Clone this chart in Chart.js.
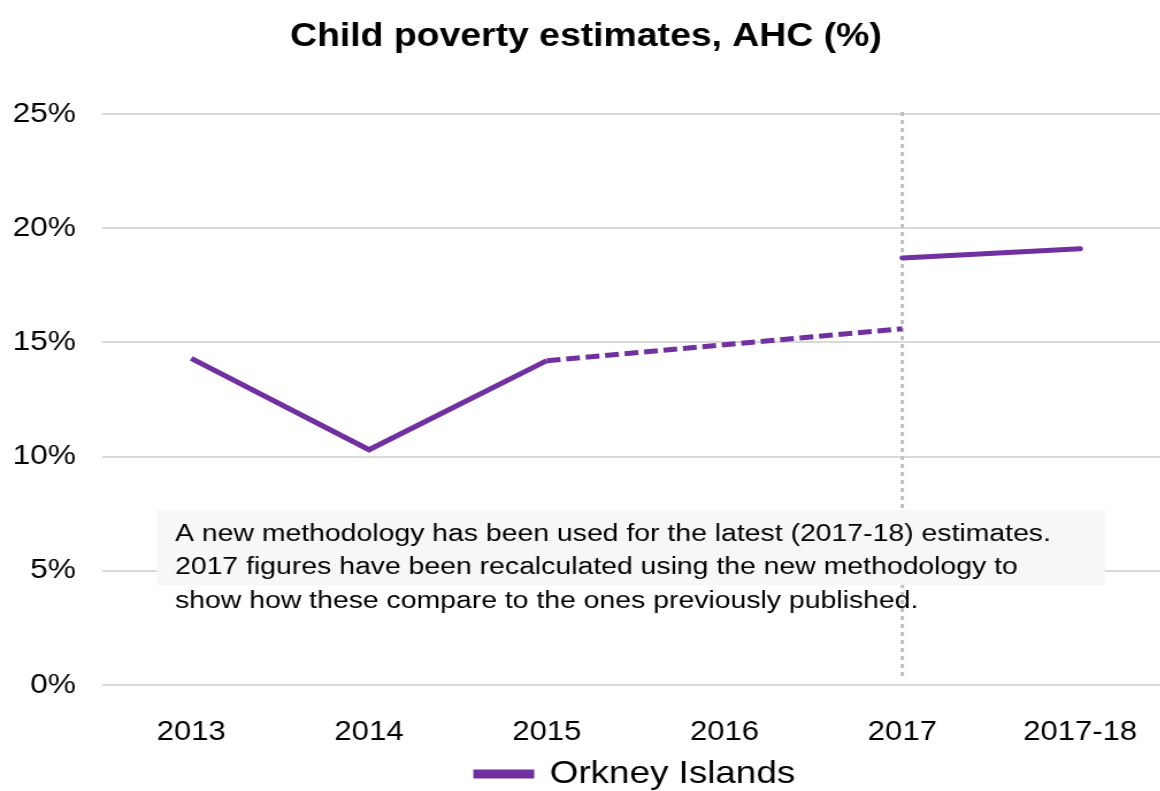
<!DOCTYPE html>
<html>
<head>
<meta charset="utf-8">
<script src="https://cdn.jsdelivr.net/npm/chart.js@4/dist/chart.umd.min.js"></script>
<style>
  html, body { margin: 0; padding: 0; background: #fff; overflow: hidden; }
  /* the original picture is slightly stretched sideways */
  #wrap { width: 1019px; height: 800px; transform: scaleX(1.15); transform-origin: 0 0; }
</style>
</head>
<body>
<div id="wrap"><canvas id="poverty-chart"></canvas></div>
<script>
const years = ["2013", "2014", "2015", "2016", "2017", "2017-18"];
// old methodology, published estimates
const oldValues = [14.3, 10.3, 14.2, null, null, null];
// old methodology, gap year bridged with a dashed line
const bridgeValues = [null, null, 14.2, null, 15.6, null];
// new methodology
const newValues = [null, null, null, null, 18.7, 19.1];
const yTicks = [0, 5, 10, 15, 20, 25];

const noteLines = [
  "A new methodology has been used for the latest (2017-18) estimates.",
  "2017 figures have been recalculated using the new methodology to",
  "show how these compare to the ones previously published."
];

const purple = "#7030a0";
const font = "'Liberation Sans', Arial, sans-serif";
const sx = 1.15;

// dotted divider at the new methodology year and the note box
const extras = {
  id: "extras",
  beforeDatasetsDraw(chart) {
    const ctx = chart.ctx;
    const x = chart.scales.x.getPixelForValue(4);
    const area = chart.chartArea;
    ctx.save();
    ctx.strokeStyle = "#c0c0c0";
    ctx.lineWidth = 3;
    ctx.setLineDash([4, 4]);
    ctx.beginPath();
    ctx.moveTo(x, area.top - 2);
    ctx.lineTo(x, area.bottom - 6);
    ctx.stroke();
    ctx.restore();
  },
  afterDatasetsDraw(chart) {
    const ctx = chart.ctx;
    ctx.save();
    ctx.fillStyle = "rgba(247,247,247,0.97)";
    ctx.fillRect(157 / sx, 510, 948 / sx, 75);
    ctx.fillStyle = "#000";
    ctx.font = "24.7px " + font;
    ctx.textBaseline = "middle";
    noteLines.forEach((line, i) => ctx.fillText(line, 175 / sx, 534 + i * 33.5));
    ctx.restore();
  }
};

const context = document.querySelector("#poverty-chart").getContext("2d");
const chart = new Chart(context, {
  type: "line",
  data: {
    labels: years,
    datasets: [{
      label: "Orkney Islands",
      data: oldValues,
      borderColor: purple,
      backgroundColor: purple,
      borderWidth: 5,
      pointRadius: 0,
      tension: 0
    }, {
      label: "bridge",
      data: bridgeValues,
      borderColor: purple,
      borderWidth: 5,
      borderDash: [12, 5],
      spanGaps: true,
      pointRadius: 0,
      tension: 0
    }, {
      label: "new",
      data: newValues,
      borderColor: purple,
      borderWidth: 5,
      borderCapStyle: "round",
      pointRadius: 0,
      tension: 0
    }]
  },
  options: {
    responsive: true,
    maintainAspectRatio: false,
    animation: false,
    layout: { padding: 0 },
    plugins: {
      title: {
        display: true,
        text: "Child poverty estimates, AHC (%)",
        color: "#000",
        font: { family: font, size: 32.5, weight: "bold" },
        padding: { top: 18, bottom: 57 }
      },
      legend: {
        position: "bottom",
        fullSize: false,
        labels: {
          filter: item => item.datasetIndex === 0,
          color: "#000",
          font: { family: font, size: 32 },
          boxWidth: 48,
          boxHeight: 4,
          padding: 8
        }
      },
      tooltip: { enabled: false }
    },
    scales: {
      x: {
        offset: true,
        grid: { display: false },
        border: { display: false },
        ticks: { color: "#000", font: { family: font, size: 27 }, padding: 23, maxRotation: 0 },
        afterFit: scale => { scale.height = 65; }
      },
      y: {
        min: 0,
        max: 25,
        afterBuildTicks: scale => { scale.ticks = yTicks.map(v => ({ value: v })); },
        grid: { color: "#d9d9d9", lineWidth: 2, drawTicks: false },
        border: { display: false },
        ticks: {
          color: "#000",
          font: { family: font, size: 27.5 },
          padding: 23,
          callback: v => v + "%"
        },
        afterFit: scale => { scale.width = 89; }
      }
    }
  },
  plugins: [extras]
});
</script>
</body>
</html>
